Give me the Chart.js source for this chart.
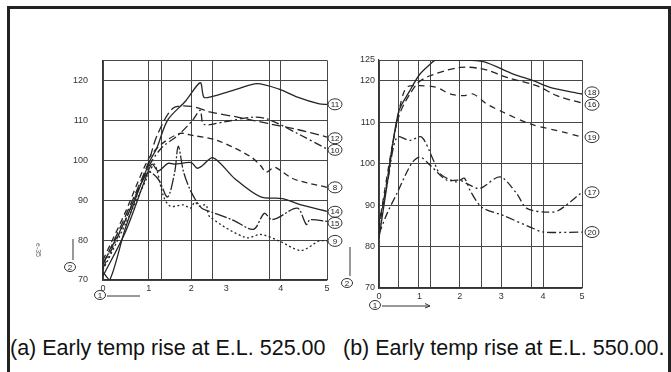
<!DOCTYPE html>
<html>
<head>
<meta charset="utf-8">
<script src="https://cdn.jsdelivr.net/npm/chart.js@4.4.1/dist/chart.umd.min.js"></script>
<style>
  body { margin: 0; background: #fff; width: 671px; height: 372px; overflow: hidden; position: relative;
         font-family: "Liberation Sans", Arial, sans-serif; }
  .frame { position: absolute; left: 7px; top: 6px; width: 658px; height: 420px; border: 3px solid #222; }
  canvas { position: absolute; }
  #cvA { left: 20px; top: 40px; }
  #cvB { left: 330px; top: 40px; }
  .cap { position: absolute; top: 336px; font-size: 21.5px; color: #111; white-space: nowrap; }
</style>
</head>
<body>
<div class="frame"></div>
<canvas id="cvA" width="330" height="275"></canvas>
<canvas id="cvB" width="300" height="275"></canvas>
<div class="cap" style="left:10px">(a) Early temp rise at E.L. 525.00</div>
<div class="cap" style="left:343px">(b) Early temp rise at E.L. 550.00.</div>

<script>
// ---- (a) E.L. 525.00 ----
const leftGridX = [0, 1.02, 1.31, 1.97, 2.44, 3.72, 3.97, 5];
const leftTickPos = [0, 1.02, 1.97, 2.75, 3.97, 5];
const leftTickText = ["0", "1", "2", "3", "4", "5"];
const leftGridY = [70, 80, 90, 100, 110, 120, 125];
const leftTickY = [70, 80, 90, 100, 110, 120];

const line11 = [[0,72],[0.15,70],[0.5,83],[1.03,99.4],[1.2,103],[1.44,110],[1.85,114.9],[2.17,119.4],[2.25,115.8],[2.38,115.8],[2.99,117.8],[3.44,119.2],[3.93,117.8],[4.34,115.8],[4.83,114.1],[5,114]];
const line12 = [[0,74],[0.5,86],[1.0,99],[1.2,106],[1.56,113],[1.97,113.5],[2.38,112.1],[3.0,110.8],[3.68,109.2],[4.3,107.8],[5,105.8]];
const line10 = [[0,73],[0.5,85],[1.0,98],[1.3,103],[1.68,106.3],[2.0,110],[2.17,112.5],[2.25,109],[2.7,109.6],[3.36,110.8],[3.7,110.2],[4.34,106.7],[5,102.8]];
const line8  = [[0,75],[0.5,87],[1.0,100],[1.3,104],[1.72,106.7],[2.0,106.2],[2.54,105],[3.28,101],[3.52,98.6],[3.64,97],[3.77,97.9],[3.85,98.2],[4.26,95.3],[5,93.2]];
const line14 = [[0,71],[0.5,82],[1.0,97],[1.1,99],[1.23,97.3],[1.45,99.2],[1.6,99],[1.97,99.4],[2.1,98],[2.2,98.5],[2.46,100.6],[2.95,95.3],[3.52,90.8],[4.01,90.4],[4.42,88.8],[5,87.2]];
const line15 = [[0,74],[0.5,85],[1.0,97],[1.23,95.3],[1.44,90.8],[1.6,97],[1.68,103.5],[1.8,97],[1.97,92],[2.2,88],[2.38,87.2],[2.9,85],[3.36,82.7],[3.6,86.7],[3.75,85.2],[3.89,85.5],[4.34,88],[4.54,83.9],[4.62,85.1],[5,84.7]];
const line9  = [[0,72.5],[0.5,84],[1.0,96],[1.15,99],[1.35,91],[1.5,88.5],[1.8,88.8],[1.95,88],[2.05,89.5],[2.15,88.5],[2.3,88.8],[2.38,85.9],[3.19,80.6],[3.52,81.4],[3.93,79.8],[4.42,77.4],[4.83,79.8],[5,79.8]];
const leftNames = ["11", "12", "10", "8", "14", "15", "9"];
const leftNameY = [114, 105.5, 102.6, 93.2, 87.1, 84.3, 79.8];

// ---- (b) E.L. 550.00 ----
const rightGridX = [0, 0.47, 0.98, 1.27, 1.99, 2.52, 3.01, 3.75, 4.04, 5];
const rightTickPos = [0, 1, 1.99, 3.01, 4.04, 5];
const rightTickText = ["0", "1", "2", "3", "4", "5"];
const rightGridY = [70, 80, 90, 100, 110, 120, 125];
const rightTickY = [70, 80, 90, 100, 110, 120, 125];

const line18 = [[0,82],[0.2,95],[0.48,112.4],[0.76,117.6],[1.0,121.5],[1.26,124],[1.4,125],[2.0,125],[2.57,124.6],[3.31,121.6],[3.8,120],[4.21,118.4],[5,116.8]];
const line16 = [[0,84],[0.2,96],[0.48,111.2],[0.93,119.2],[1.26,121.2],[2.0,123.2],[2.57,122.8],[3.15,120.8],[3.88,118.8],[4.38,116.4],[5,114.6]];
const line19 = [[0,85],[0.25,100],[0.5,113],[0.68,118.4],[1.01,118.8],[1.42,118.4],[1.75,116.8],[2.08,116.4],[2.32,116.8],[2.65,114.4],[3.06,112.4],[3.72,109.6],[4.54,107.6],[5,106.4]];
const line17 = [[0,83],[0.2,88],[0.44,92.8],[0.8,100],[1.01,101.6],[1.26,99.6],[1.67,96],[1.99,96],[2.24,94.8],[2.49,94],[2.98,96.8],[3.39,92.8],[3.64,89.2],[4.13,88.3],[4.42,88.7],[5,93.1]];
const line20 = [[0,86],[0.2,95],[0.44,106.4],[0.76,105.6],[1.05,106.4],[1.34,100.8],[1.5,97.6],[1.91,95.6],[2.1,96.5],[2.24,93.6],[2.53,89.5],[3.06,87.5],[3.72,84.7],[4.05,83.5],[5,83.5]];
const rightNames = ["18", "16", "19", "17", "20"];
const rightNameY = [117.2, 114.2, 106.4, 93.1, 83.5];

const INK = "#262626";
const GRID = "#474747";
const TXT = "#333";
const NONE = "rgba(0,0,0,0)";

// circled curve numbers + the little circled axis marks
const tagPlugin = {
  id: "tags",
  afterDraw(chart, args, o) {
    const { ctx, chartArea: a, scales: { x, y } } = chart;
    ctx.save();
    ctx.strokeStyle = "#333";
    ctx.fillStyle = "#222";
    ctx.lineWidth = 1;
    ctx.textAlign = "center";
    ctx.textBaseline = "middle";
    ctx.font = '8px "Liberation Sans"';
    o.names.forEach((t, i) => {
      const cx = x.getPixelForValue(5) + o.dx;
      const cy = y.getPixelForValue(o.nameY[i]);
      ctx.beginPath();
      ctx.ellipse(cx, cy, 7, 5.5, 0, 0, Math.PI * 2);
      ctx.fillStyle = "#fff";
      ctx.fill();
      ctx.stroke();
      ctx.fillStyle = "#222";
      ctx.fillText(t, cx, cy + 0.5);
    });

    const m = o.marks;
    // "2" (vertical axis) with stroke above
    const vx = a.left + m.v[0], vy = a.bottom + m.v[1];
    ctx.beginPath();
    ctx.moveTo(vx + 3, vy - m.v[2]);
    ctx.lineTo(vx + 3, vy - 7);
    ctx.stroke();
    ctx.beginPath();
    ctx.ellipse(vx, vy, 5.5, 4.5, 0, 0, Math.PI * 2);
    ctx.stroke();
    ctx.fillText("2", vx, vy + 0.5);
    // "1" (horizontal axis) with arrow to the right
    const hx = a.left + m.h[0], hy = a.bottom + m.h[1];
    ctx.beginPath();
    ctx.ellipse(hx, hy, 5.5, 4.5, 0, 0, Math.PI * 2);
    ctx.stroke();
    ctx.fillText("1", hx, hy + 0.5);
    ctx.beginPath();
    ctx.moveTo(hx + 7, hy + 1);
    ctx.lineTo(hx + m.h[2], hy + 1);
    ctx.stroke();
    if (m.arrow) {
      ctx.beginPath();
      ctx.moveTo(hx + m.h[2] - 5, hy - 1.5);
      ctx.lineTo(hx + m.h[2], hy + 1);
      ctx.lineTo(hx + m.h[2] - 5, hy + 3);
      ctx.stroke();
    }
    if (m.note) {
      ctx.translate(a.left - 65, a.bottom - 30);
      ctx.rotate(Math.PI / 2);
      ctx.font = '7px "Liberation Sans"';
      ctx.fillStyle = "#666";
      ctx.fillText(m.note, 0, 0);
    }
    ctx.restore();
  },
};

function buildChart(id, o) {
  const xTicks = [...new Set([...o.gridX, ...o.tickPos])].sort((p, q) => p - q);
  return new Chart(document.getElementById(id), {
    type: "line",
    data: {
      datasets: o.series.map((pts, i) => ({
        data: pts.map((p) => ({ x: p[0], y: p[1] })),
        borderColor: INK,
        borderWidth: 1.3,
        borderDash: o.dashes[i],
        pointRadius: 0,
        tension: 0.3,
        fill: false,
      })),
    },
    options: {
      responsive: false,
      animation: false,
      devicePixelRatio: 1,
      layout: { padding: o.pad },
      plugins: {
        legend: { display: false },
        tooltip: { enabled: false },
        tags: { names: o.names, nameY: o.nameY, dx: o.dx, marks: o.marks },
      },
      scales: {
        x: {
          type: "linear",
          min: 0,
          max: 5,
          afterBuildTicks: (s) => { s.ticks = xTicks.map((v) => ({ value: v })); },
          afterFit: (s) => { s.height = 20; },
          grid: {
            color: (c) => (c.tick && o.gridX.includes(c.tick.value) ? GRID : NONE),
            lineWidth: 1,
            drawTicks: false,
          },
          border: { color: "#333", width: 1.2 },
          ticks: {
            autoSkip: false,
            maxRotation: 0,
            padding: o.xPad,
            color: TXT,
            font: { family: "Liberation Sans", size: 9 },
            callback: (v) => {
              const k = o.tickPos.indexOf(v);
              return k < 0 ? "" : o.tickText[k];
            },
          },
        },
        y: {
          type: "linear",
          min: 70,
          max: 125,
          afterBuildTicks: (s) => { s.ticks = o.gridY.map((v) => ({ value: v })); },
          afterFit: (s) => { s.width = 30; },
          grid: { color: GRID, lineWidth: 1, drawTicks: false },
          border: { color: "#333", width: 1.2 },
          ticks: {
            padding: o.yPad,
            color: TXT,
            font: { family: "Liberation Sans", size: 9 },
            callback: (v) => (o.tickY.includes(v) ? String(v) : ""),
          },
        },
      },
    },
    plugins: [tagPlugin],
  });
}

buildChart("cvA", {
  series: [line11, line12, line10, line8, line14, line15, line9],
  dashes: [[], [9, 4], [8, 3, 2, 3], [6, 4], [], [12, 2, 2, 2], [2, 2.5]],
  names: leftNames,
  nameY: leftNameY,
  dx: 8,
  gridX: leftGridX,
  tickPos: leftTickPos,
  tickText: leftTickText,
  gridY: leftGridY,
  tickY: leftTickY,
  xPad: 3,
  yPad: 15,
  pad: { left: 53, right: 23, top: 15, bottom: 15 },
  marks: { v: [-33, -13, 28], h: [-3, 15, 40], arrow: false, note: "e-35" },
});

buildChart("cvB", {
  series: [line18, line16, line19, line17, line20],
  dashes: [[], [7, 4], [6, 5], [8, 3, 2, 3], [9, 3, 2, 3, 2, 3]],
  names: rightNames,
  nameY: rightNameY,
  dx: 10,
  gridX: rightGridX,
  tickPos: rightTickPos,
  tickText: rightTickText,
  gridY: rightGridY,
  tickY: rightTickY,
  xPad: 3,
  yPad: 4,
  pad: { left: 19, right: 48, top: 20, bottom: 7 },
  marks: { v: [-32, -5, 36], h: [-4, 17, 55], arrow: true, note: "" },
});
</script>
</body>
</html>
